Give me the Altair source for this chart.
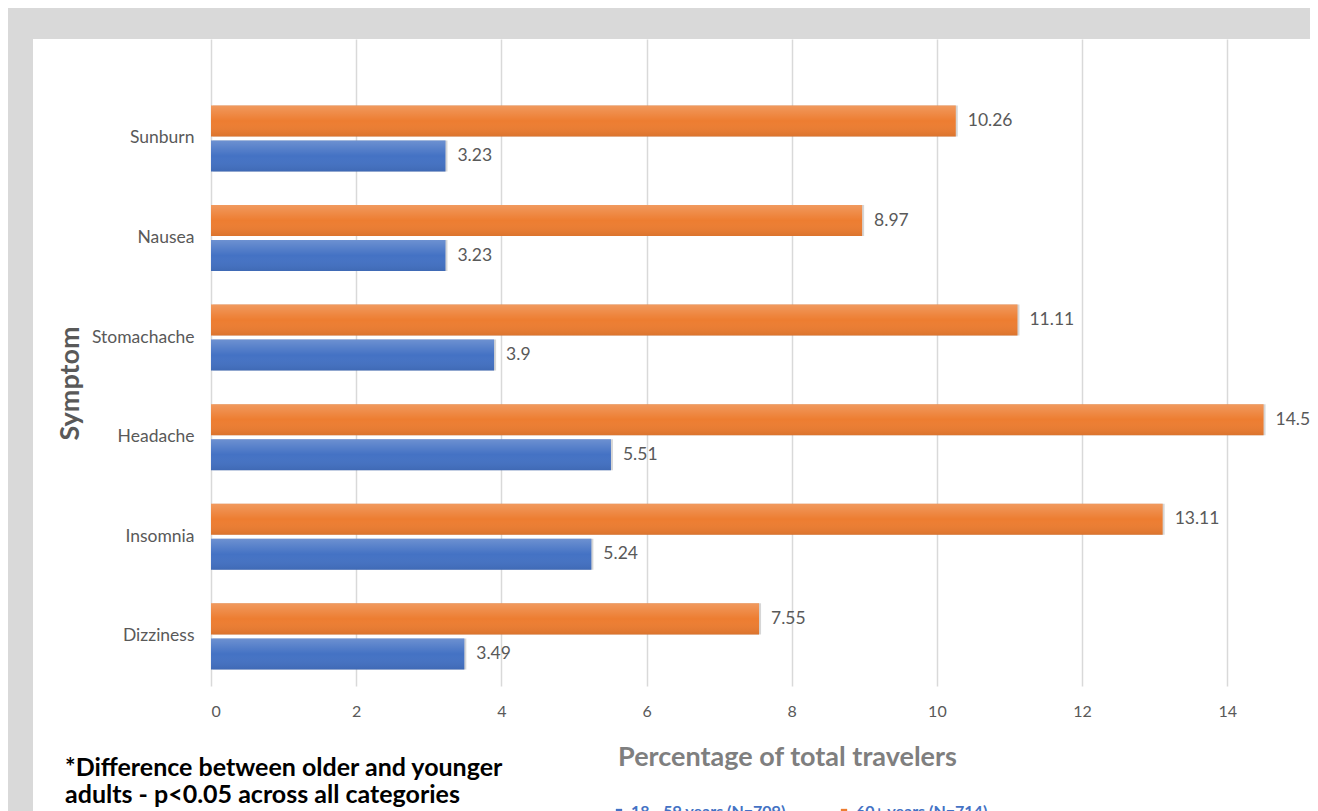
import altair as alt
import pandas as pd

symptoms = ["Sunburn", "Nausea", "Stomachache", "Headache", "Insomnia", "Dizziness"]
groups = ["18 - 59 years (N=709)", "60+ years (N=714)"]
older_vals = [10.26, 8.97, 11.11, 14.5, 13.11, 7.55]
older_labels = ["10.26", "8.97", "11.11", "14.5", "13.11", "7.55"]
younger_vals = [3.23, 3.23, 3.9, 5.51, 5.24, 3.49]
younger_labels = ["3.23", "3.23", "3.9", "5.51", "5.24", "3.49"]
x_ticks = [0, 2, 4, 6, 8, 10, 12, 14]

rows = []
for s, v, l in zip(symptoms, older_vals, older_labels):
    rows.append({"Symptom": s, "group": groups[1], "value": v, "lab": l})
for s, v, l in zip(symptoms, younger_vals, younger_labels):
    rows.append({"Symptom": s, "group": groups[0], "value": v, "lab": l})
df = pd.DataFrame(rows)

FONT = "Lato"
GRAY = "#595959"
BG = "#d9d9d9"
W, H = 1099, 647
BOTTOM = 125

x_enc = alt.X("value:Q",
              scale=alt.Scale(domain=[0, 15.14], nice=False, zero=True),
              axis=alt.Axis(values=x_ticks, grid=True, gridColor="#d9d9d9", gridWidth=1.5,
                            domain=False, ticks=False, labelFontSize=16, labelColor=GRAY,
                            labelPadding=17, labelFont=FONT,
                            title="Percentage of total travelers", titleFontSize=27,
                            titleFont=FONT, titleFontWeight="bold", titleColor="#7f7f7f",
                            titleX=576, titleY=71, titleBaseline="middle", titleAlign="center"))
y_enc = alt.Y("Symptom:N", sort=symptoms,
              scale=alt.Scale(paddingInner=0.337, paddingOuter=0.4167, align=0.8),
              axis=alt.Axis(ticks=False, domain=False, grid=False, labelFontSize=17.5,
                            labelColor=GRAY, labelPadding=17, labelFont=FONT,
                            title="Symptom", titleFontSize=27, titleFont=FONT,
                            titleFontWeight="bold", titleColor=GRAY, titleAngle=-90,
                            titleX=-141, titleY=344, titleAlign="center",
                            titleBaseline="middle"))
yoff = alt.YOffset("group:N", sort=[groups[1], groups[0]],
                   scale=alt.Scale(paddingInner=0.114, paddingOuter=0))

one = alt.Data(values=[{"a": 1}])
top_band = alt.Chart(one).mark_rect(color=BG).encode(
    x=alt.value(-210), x2=alt.value(W + 20), y=alt.value(-40), y2=alt.value(0))
left_band = alt.Chart(one).mark_rect(color=BG).encode(
    x=alt.value(-210), x2=alt.value(-178), y=alt.value(-40), y2=alt.value(H + BOTTOM + 10))

base = alt.Chart(df)

shadow = base.mark_bar(color="#000000", opacity=0.16, xOffset=2, yOffset=3).encode(
    x=x_enc, y=y_enc, yOffset=yoff)

bars = base.mark_bar().encode(
    x=x_enc, y=y_enc, yOffset=yoff,
    color=alt.Color("group:N", sort=groups,
                    scale=alt.Scale(domain=groups, range=["#4472c4", "#ed7d31"]),
                    legend=alt.Legend(title=None, orient="none", direction="horizontal",
                                      legendX=400, legendY=765, labelFontSize=16,
                                      labelColor="#4472c4", labelFont=FONT,
                                      symbolType="square", symbolSize=40,
                                      columnPadding=50, labelFontWeight="bold")))

sheen = base.mark_bar(color=alt.LinearGradient(
    gradient="linear", x1=0, y1=0, x2=0, y2=1,
    stops=[alt.GradientStop(offset=0, color="rgba(255,255,255,0.22)"),
           alt.GradientStop(offset=0.5, color="rgba(255,255,255,0.0)"),
           alt.GradientStop(offset=1, color="rgba(0,0,0,0.08)")])).encode(
    x=x_enc, y=y_enc, yOffset=yoff)

labels = base.mark_text(align="left", baseline="middle", dx=12, fontSize=17.5,
                        color=GRAY, font=FONT).encode(
    x=x_enc, y=y_enc, yOffset=yoff, text="lab:N")

note = alt.Chart(one).mark_text(
    align="left", baseline="alphabetic", fontSize=25, fontWeight="bold", font=FONT,
    color="#000000", lineHeight=27,
    text=["*Difference between older and younger",
          "adults - p<0.05 across all categories"]).encode(
    x=alt.value(-146), y=alt.value(737))

chart = alt.layer(top_band, left_band, shadow, bars, sheen, labels, note).properties(
    width=W, height=H,
    autosize=alt.AutoSizeParams(type="none"),
    padding={"left": 203, "top": 31, "right": 0, "bottom": BOTTOM},
    background="white",
).configure_view(stroke=None)

chart.save("out.html", embed_options={"renderer": "svg", "actions": False})
